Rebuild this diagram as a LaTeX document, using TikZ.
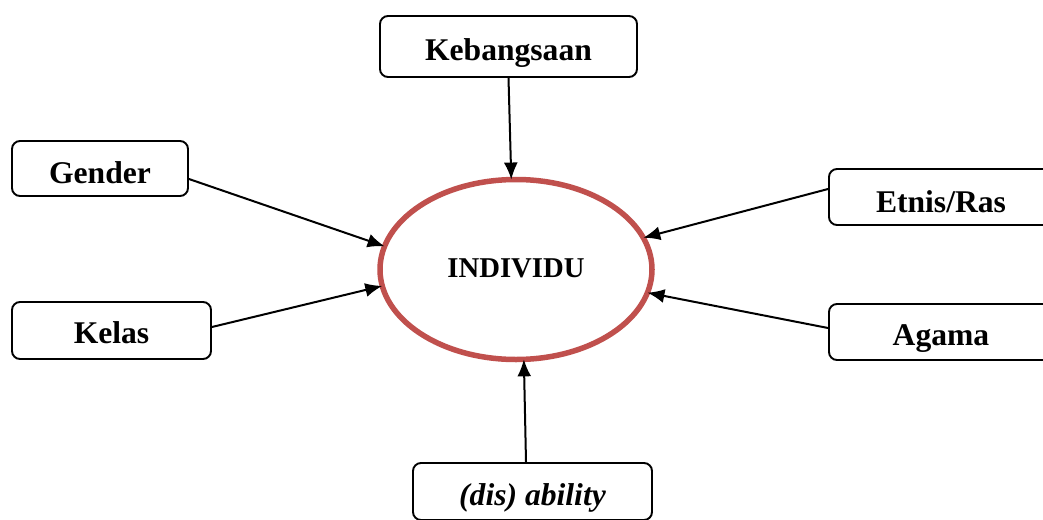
\documentclass[tikz,border=0pt]{standalone}
\usepackage{fontspec}
\setmainfont{Liberation Serif}
\usetikzlibrary{shapes.geometric,arrows.meta}
\definecolor{ellred}{HTML}{C0504D}
\tikzset{
  box/.style={draw=black, line width=1.9pt, rounded corners=8pt, inner sep=0pt,
    fill=white, font=\bfseries\fontsize{31.6}{36}\selectfont, text depth=10pt},
  conn/.style={draw=black, line width=2pt, -{Latex[length=17pt,width=14pt]}},
}
\begin{document}
\begin{tikzpicture}[x=1pt,y=-1pt]
\useasboundingbox (0,0) rectangle (1043,519);
\clip (0,0) rectangle (1043,519);
\fill[white] (0,0) rectangle (1043,519);
\node[draw=ellred, line width=5.5pt, shape=ellipse, minimum width=272pt, minimum height=180pt,
  inner sep=0pt, outer sep=0pt, font=\bfseries\fontsize{28.7}{32}\selectfont,
  text height=25pt, text depth=10pt] (ind) at (516,269.5) {INDIVIDU};
\node[box, minimum width=257pt, minimum height=61pt, text height=37pt] (keb) at (508.5,46.5) {Kebangsaan};
\node[box, minimum width=176pt, minimum height=55pt, text height=39pt] (gender) at (100,168.5) {Gender};
\node[box, minimum width=199pt, minimum height=57pt, text height=35pt] (kelas) at (111.5,330.5) {Kelas};
\node[box, minimum width=224pt, minimum height=56pt, text height=40pt] (etnis) at (941,197) {Etnis/Ras};
\node[box, minimum width=224pt, minimum height=56pt, text height=36pt] (agama) at (941,332) {Agama};
\node[box, minimum width=239pt, minimum height=57pt, text height=37pt, font=\bfseries\itshape\fontsize{31.6}{36}\selectfont] (dis) at (532.5,491.5) {(dis) ability};
\draw[conn] (keb.south) -- (ind.93.2);
\draw[conn] ([yshift=-10.5pt]gender.east) -- (ind.170.6);
\draw[conn] ([yshift=3.5pt]kelas.east) -- (ind.187.6);
\draw[conn] ([yshift=8pt]etnis.west) -- (ind.14.7);
\draw[conn] ([yshift=4pt]agama.west) -- (ind.350.3);
\draw[conn] ([xshift=-6.5pt]dis.north) -- (ind.275.6);
\end{tikzpicture}
\end{document}
